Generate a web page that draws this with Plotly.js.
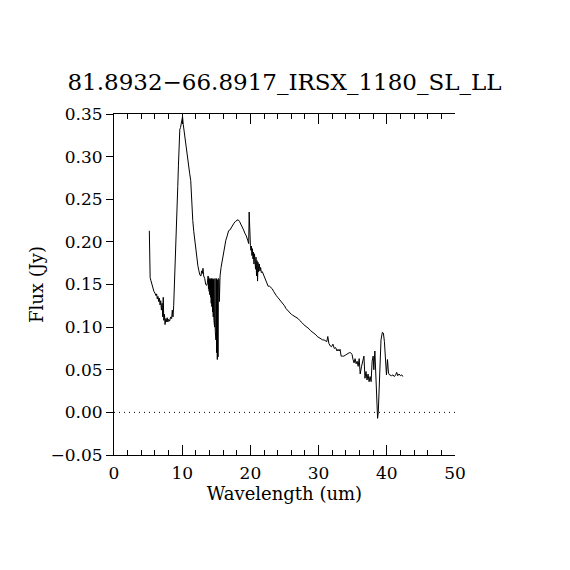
<!DOCTYPE html>
<html>
<head>
<meta charset="utf-8">
<script src="https://cdn.plot.ly/plotly-3.0.1.min.js"></script>
<style>html,body{margin:0;padding:0;background:#fff;}#chart{width:570px;height:570px;}</style>
</head>
<body>
<div id="chart"></div>
<script>
var chartTitle = "81.8932\u221266.8917_IRSX_1180_SL_LL";
var xLabel = "Wavelength (um)";
var yLabel = "Flux (Jy)";
var xTickVals = [0, 10, 20, 30, 40, 50];
var yTickVals = [-0.05, 0.00, 0.05, 0.10, 0.15, 0.20, 0.25, 0.30, 0.35];

var wavelength = [
5.18,5.20,5.25,5.30,5.40,5.55,5.70,5.85,6.00,6.15,6.25,6.35,6.45,6.55,6.65,6.75,6.85,6.95,7.05,7.15,
7.22,7.30,7.40,7.48,7.60,7.70,7.80,7.90,8.00,8.15,8.30,8.45,8.55,8.65,8.75,8.90,9.05,9.20,9.35,9.45,
9.55,9.65,9.75,9.85,9.95,10.05,10.15,10.30,10.50,10.70,10.90,11.10,11.25,11.40,11.55,11.70,11.85,12.00,12.15,12.30,
12.45,12.60,12.75,12.85,12.95,13.05,13.15,13.30,13.45,13.60,13.70,13.80,
13.85,13.90,13.95,14.00,14.05,14.10,14.15,14.20,14.25,14.30,14.35,14.40,14.45,14.50,14.55,14.60,14.65,14.70,14.75,14.80,
14.85,14.90,14.95,15.00,15.05,15.10,15.15,15.20,15.25,15.30,15.35,15.40,15.45,
15.55,15.70,15.85,16.00,16.20,16.40,16.60,16.80,17.00,17.20,17.40,17.60,17.80,18.00,18.20,18.40,18.60,18.80,19.00,19.20,
19.40,19.60,19.75,19.82,19.88,
20.00,20.08,20.15,20.22,20.30,20.38,20.45,20.52,20.60,20.68,20.75,20.82,20.90,20.97,21.05,21.12,21.20,21.30,21.40,21.50,
21.60,21.75,21.90,22.05,22.20,22.40,22.60,22.80,23.00,23.20,23.40,23.60,23.80,24.00,24.20,24.40,24.60,24.80,25.00,25.20,
25.40,25.60,25.80,26.00,26.20,26.40,26.60,26.80,27.00,27.20,27.40,27.60,27.80,28.00,28.20,28.40,28.60,28.80,29.00,29.20,
29.40,29.60,29.80,30.00,30.20,30.40,30.60,30.80,31.00,31.20,31.35,31.50,31.70,31.90,32.10,32.30,32.50,32.70,32.85,33.00,
33.15,33.30,33.50,33.70,33.90,34.10,34.30,34.50,34.70,34.90,35.05,35.20,35.35,35.50,35.65,35.80,35.95,36.10,36.30,36.50,
36.65,36.80,36.95,37.10,37.25,37.40,37.55,37.70,37.85,38.00,38.10,38.25,38.40,38.55,38.65,38.75,38.85,38.97,39.15,39.35,
39.50,39.65,39.80,39.95,40.10,40.25,40.40,40.55,40.70,40.90,41.10,41.30,41.45,41.60,41.80,42.00,42.20,42.35
];
var flux = [
0.213,0.165,0.168,0.158,0.155,0.150,0.145,0.142,0.140,0.137,0.139,0.133,0.136,0.130,0.134,0.126,0.131,0.120,0.128,0.112,
0.135,0.108,0.115,0.103,0.110,0.106,0.111,0.106,0.109,0.107,0.112,0.110,0.120,0.112,0.125,0.155,0.190,0.222,0.265,0.290,
0.318,0.332,0.334,0.338,0.343,0.347,0.338,0.328,0.315,0.300,0.290,0.280,0.272,0.245,0.225,0.212,0.200,0.190,0.180,0.172,
0.166,0.161,0.160,0.166,0.163,0.169,0.160,0.157,0.150,0.149,0.152,0.160,
0.145,0.158,0.142,0.156,0.138,0.157,0.135,0.156,0.128,0.157,0.124,0.156,0.118,0.157,0.112,0.156,0.108,0.156,0.100,0.157,
0.095,0.156,0.085,0.157,0.070,0.156,0.062,0.155,0.065,0.157,0.090,0.156,0.130,
0.160,0.170,0.178,0.183,0.192,0.202,0.207,0.213,0.214,0.217,0.220,0.222,0.224,0.225,0.226,0.224,0.221,0.218,0.214,0.210,
0.207,0.202,0.198,0.235,0.205,
0.196,0.190,0.195,0.184,0.192,0.180,0.188,0.174,0.186,0.177,0.168,0.182,0.160,0.178,0.154,0.176,0.165,0.174,0.166,0.170,
0.164,0.165,0.162,0.157,0.155,0.150,0.148,0.148,0.147,0.145,0.142,0.139,0.137,0.135,0.133,0.131,0.130,0.128,0.125,0.122,
0.120,0.118,0.116,0.115,0.114,0.113,0.112,0.110,0.110,0.108,0.107,0.105,0.103,0.102,0.101,0.099,0.098,0.096,0.095,0.093,
0.092,0.091,0.089,0.088,0.087,0.086,0.085,0.085,0.084,0.083,0.089,0.081,0.078,0.077,0.080,0.075,0.076,0.072,0.074,0.072,
0.074,0.066,0.066,0.066,0.067,0.068,0.070,0.070,0.070,0.068,0.062,0.058,0.063,0.057,0.060,0.054,0.063,0.045,0.054,0.063,
0.066,0.040,0.048,0.038,0.045,0.036,0.042,0.036,0.060,0.066,0.050,0.072,0.040,0.010,-0.007,0.000,0.020,0.055,0.085,0.094,
0.093,0.083,0.060,0.044,0.062,0.046,0.044,0.043,0.043,0.044,0.042,0.044,0.047,0.043,0.045,0.043,0.044,0.042
];

var fontFam = "DejaVu Serif, Liberation Serif, serif";
var rangeX = [0, 50];
var rangeY = [-0.05, 0.35];

var data = [{
  x: wavelength, y: flux, type: 'scatter', mode: 'lines',
  line: {color: '#000', width: 1}, hoverinfo: 'skip', showlegend: false
}];

var layout = {
  width: 570, height: 570,
  paper_bgcolor: '#fff', plot_bgcolor: '#fff',
  margin: {l: 114, r: 115, t: 114, b: 115},
  showlegend: false,
  title: {text: chartTitle, font: {family: fontFam, size: 23, color: '#000'},
          x: 0.5, xref: 'paper', xanchor: 'center', y: 1 - 82/570, yref: 'container', yanchor: 'middle'},
  xaxis: {
    range: rangeX, tickmode: 'array', tickvals: xTickVals, ticktext: xTickVals.map(String),
    ticks: 'inside', ticklen: 10, tickwidth: 1, tickcolor: '#000',
    minor: {dtick: 2, ticks: 'inside', ticklen: 5, tickwidth: 1, tickcolor: '#000', showgrid: false},
    showline: true, linecolor: '#000', linewidth: 1, mirror: 'ticks',
    showgrid: false, zeroline: false, ticklabelstandoff: 3,
    tickfont: {family: fontFam, size: 17, color: '#000'},
    title: {text: xLabel, font: {family: fontFam, size: 18, color: '#000'}, standoff: 2}
  },
  yaxis: {
    range: rangeY, tickmode: 'array', tickvals: yTickVals, tickformat: '.2f',
    ticks: 'outside', ticklen: 7, tickwidth: 1, tickcolor: '#000',
    showline: true, linecolor: '#000', linewidth: 1, mirror: false,
    showgrid: false, zeroline: false,
    tickfont: {family: fontFam, size: 17, color: '#000'},
    title: {text: yLabel, font: {family: fontFam, size: 18, color: '#000'}, standoff: 2}
  },
  yaxis2: {
    range: rangeY, overlaying: 'y', side: 'right', anchor: 'x',
    tickmode: 'array', tickvals: yTickVals, showticklabels: false,
    ticks: 'inside', ticklen: 7, tickwidth: 1, tickcolor: '#000',
    showline: true, linecolor: '#000', linewidth: 1,
    showgrid: false, zeroline: false
  },
  shapes: [{type: 'line', xref: 'x', yref: 'y', x0: rangeX[0], x1: rangeX[1], y0: 0, y1: 0,
            line: {color: '#000', width: 1, dash: '1px,4px'}}]
};

Plotly.newPlot('chart', data, layout, {staticPlot: true, displayModeBar: false});
</script>
</body>
</html>
